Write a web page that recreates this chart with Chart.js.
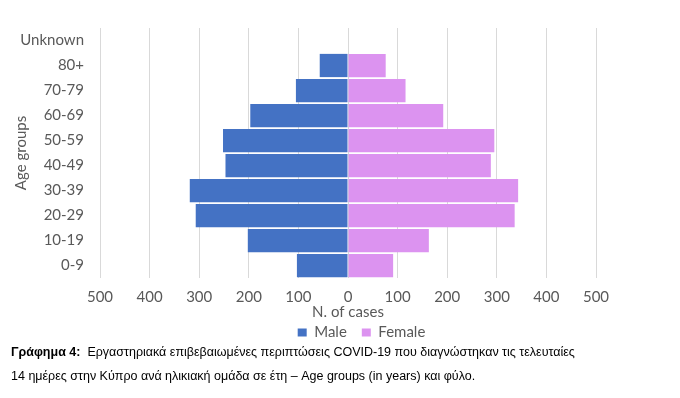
<!DOCTYPE html>
<html>
<head>
<meta charset="utf-8">
<script src="https://cdn.jsdelivr.net/npm/chart.js@4.4.0/dist/chart.umd.min.js"></script>
<style>
  html, body { margin: 0; padding: 0; background: #fff; }
  body { width: 680px; height: 398px; position: relative; overflow: hidden; }
  #wrap { position: absolute; left: 0; top: 0; width: 680px; height: 350px; }
  .cap { position: absolute; left: 11px; font-family: "Liberation Sans", Arial, sans-serif; font-size: 12.5px; line-height: 1.15; color: #000; white-space: nowrap; }
  .cap b { font-weight: bold; }
</style>
</head>
<body>
<div id="wrap"><canvas id="c"></canvas></div>
<div class="cap" style="top:345px"><b>Γράφημα 4:</b>&nbsp; Εργαστηριακά επιβεβαιωμένες περιπτώσεις COVID-19 που διαγνώστηκαν τις τελευταίες</div>
<div class="cap" style="top:369px">14 ημέρες στην Κύπρο ανά ηλικιακή ομάδα σε έτη – Age groups (in years) και φύλο.</div>
<script>
const ageGroups = ["Unknown", "80+", "70-79", "60-69", "50-59", "40-49", "30-39", "20-29", "10-19", "0-9"];
const maleCases = [0, 57, 105, 197, 252, 247, 319, 307, 202, 103];
const femaleCases = [0, 76, 116, 192, 295, 288, 343, 336, 163, 91];
const xTickValues = [-500, -400, -300, -200, -100, 0, 100, 200, 300, 400, 500];

const tickFont = { family: "Lato", size: 15 };
const grey = "#595959";

// shift the legend's centring box so it sits under the plot like the original
const legendShift = {
  id: "legendShift",
  afterLayout(chart) { if (chart.legend) { chart.legend.left = 43; } }
};

new Chart(document.getElementById("c"), {
  type: "bar",
  data: {
    labels: ageGroups,
    datasets: [
      { label: "Male", data: maleCases.map(v => -v), backgroundColor: "#4472c4", borderWidth: 0, barPercentage: 0.93, categoryPercentage: 1 },
      { label: "Female", data: femaleCases, backgroundColor: "#dc93f0", borderWidth: 0, barPercentage: 0.93, categoryPercentage: 1 }
    ]
  },
  plugins: [legendShift],
  options: {
    indexAxis: "y",
    responsive: true,
    maintainAspectRatio: false,
    animation: false,
    layout: { padding: { top: 28, right: 0, left: 0, bottom: 0 } },
    scales: {
      x: {
        stacked: true,
        min: -500, max: 500,
        afterBuildTicks: s => { s.ticks = xTickValues.map(v => ({ value: v })); },
        afterFit: s => { s.height = 32; },
        ticks: { font: tickFont, color: grey, padding: 10.5, maxRotation: 0, callback: v => Math.abs(v) },
        grid: { color: "#d9d9d9", drawTicks: false, lineWidth: 1 },
        border: { display: false },
        title: { display: true, text: "N. of cases", font: tickFont, color: grey, padding: { top: 0, bottom: -11 } }
      },
      y: {
        stacked: true,
        afterFit: s => { s.width = 100; },
        ticks: { font: tickFont, color: grey, padding: 16 },
        grid: { display: false, drawTicks: false },
        border: { display: false },
        title: { display: true, text: "Age groups", font: tickFont, color: grey, padding: { top: 12.5, bottom: 0 } }
      },
      yRight: {
        type: "category",
        axis: "y",
        position: "right",
        afterFit: s => { s.width = 84; },
        ticks: { display: false },
        grid: { display: false, drawTicks: false },
        border: { display: false }
      }
    },
    plugins: {
      legend: {
        position: "bottom",
        labels: { font: tickFont, color: grey, boxWidth: 9, boxHeight: 8, padding: 15 }
      },
      tooltip: { enabled: false }
    }
  }
});
</script>
</body>
</html>
